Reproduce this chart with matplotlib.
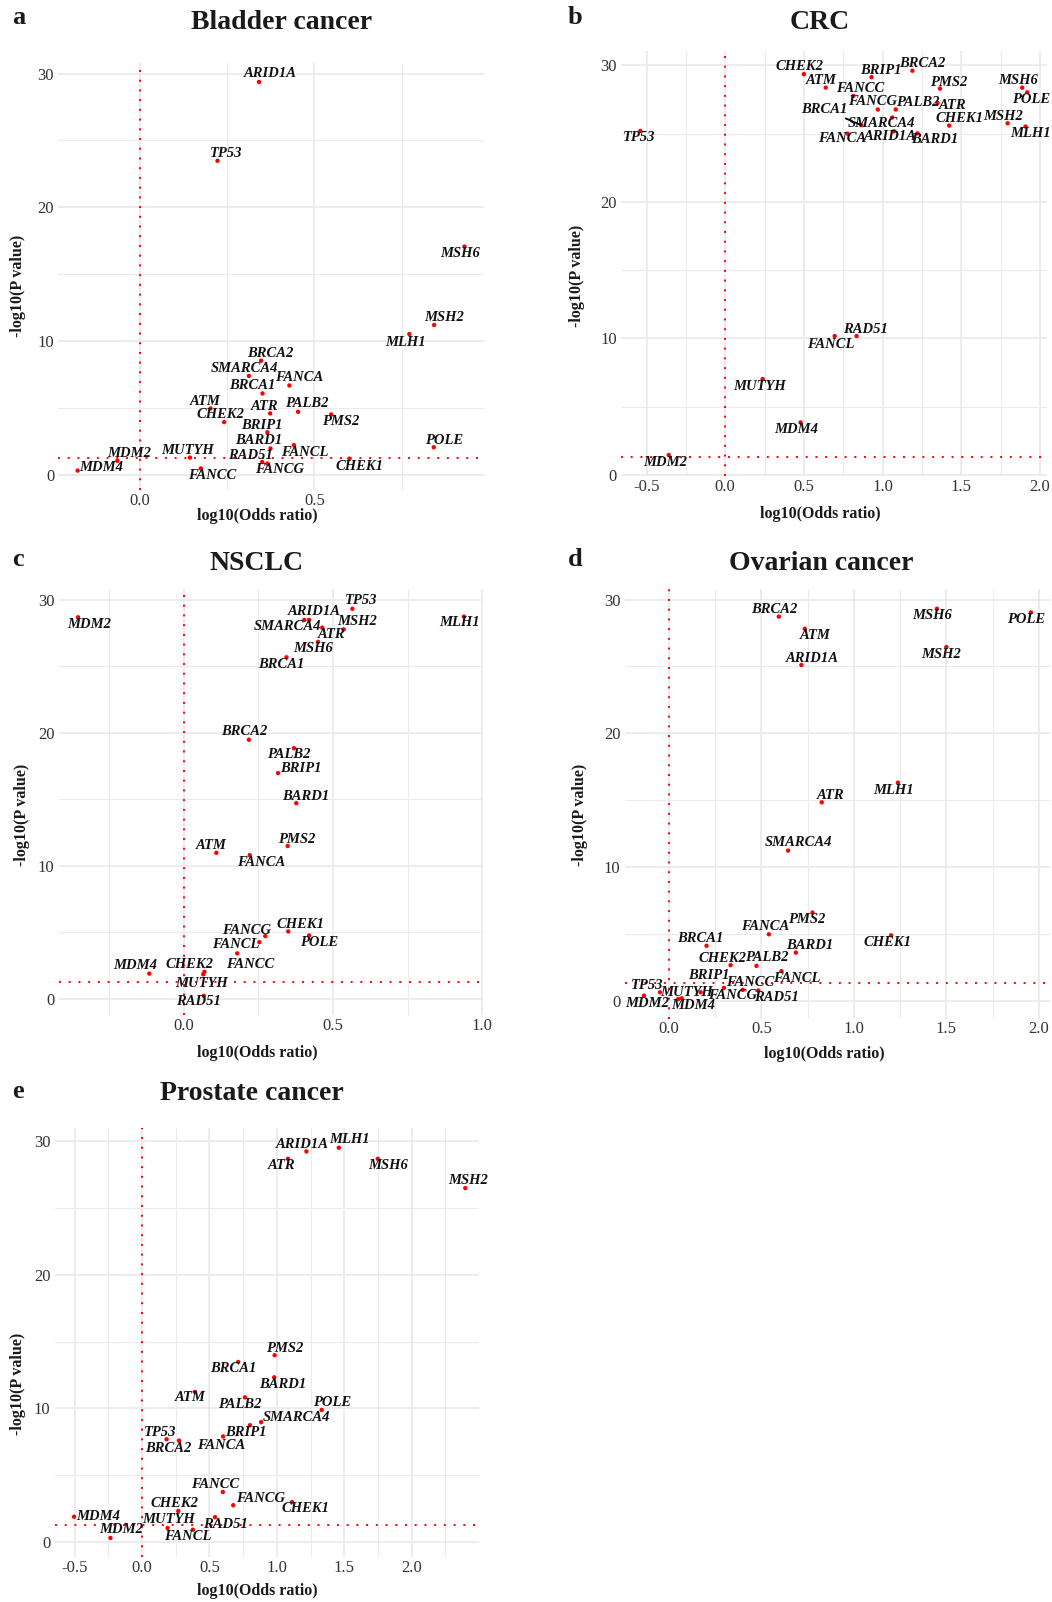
"""
Volcano-style panels: DDR gene associations across five cancer types
"""

import matplotlib
matplotlib.use('Agg')
import matplotlib.pyplot as plt
from matplotlib.ticker import MultipleLocator, FormatStrFormatter

plt.rcParams['font.family'] = ['Liberation Serif', 'DejaVu Serif']
plt.rcParams['axes.unicode_minus'] = False

GENES = ['ARID1A', 'ATM', 'ATR', 'BARD1', 'BRCA1', 'BRCA2', 'BRIP1', 'CHEK1',
         'CHEK2', 'FANCA', 'FANCC', 'FANCG', 'FANCL', 'MDM2', 'MDM4', 'MLH1',
         'MSH2', 'MSH6', 'MUTYH', 'PALB2', 'PMS2', 'POLE', 'RAD51', 'SMARCA4',
         'TP53']

# log10(odds ratio) and -log10(p) per cancer, in GENES order
bladder_log_or = [0.341, 0.202, 0.373, 0.374, 0.351, 0.347, 0.365, 0.600,
                  0.241, 0.428, 0.174, 0.365, 0.441, -0.065, -0.179, 0.772,
                  0.843, 0.930, 0.143, 0.453, 0.548, 0.842, 0.350, 0.312,
                  0.222]
bladder_log_p = [29.37, 4.97, 4.60, 1.98, 6.09, 8.54, 3.19, 1.22,
                 3.95, 6.69, 0.49, 0.85, 2.23, 1.06, 0.33, 10.53,
                 11.21, 17.07, 1.30, 4.72, 4.52, 2.07, 0.97, 7.40,
                 23.48]

crc_log_or = [1.072, 0.639, 1.350, 1.222, 0.865, 1.190, 0.930, 1.424,
              0.500, 0.778, 0.814, 0.970, 0.696, -0.359, 0.479, 1.909,
              1.795, 1.888, 0.238, 1.084, 1.365, 1.920, 0.835, 1.061,
              -0.540]
crc_log_p = [25.17, 28.37, 27.24, 25.02, 25.62, 29.61, 29.14, 25.59,
             29.36, 25.00, 27.76, 26.77, 10.17, 1.45, 3.84, 25.52,
             25.76, 28.37, 7.02, 26.77, 28.30, 28.03, 10.17, 26.18,
             25.20]

nsclc_log_or = [0.404, 0.109, 0.464, 0.377, 0.344, 0.218, 0.316, 0.350,
                0.069, 0.221, 0.179, 0.273, 0.253, -0.355, -0.116, 0.939,
                0.536, 0.450, 0.065, 0.369, 0.348, 0.420, 0.067, 0.420,
                0.565]
nsclc_log_p = [28.48, 10.98, 27.90, 14.71, 25.67, 19.48, 16.97, 5.07,
               2.03, 10.80, 3.42, 4.72, 4.26, 28.68, 1.90, 28.73,
               27.77, 26.83, 1.85, 18.84, 11.49, 4.77, 0.23, 28.48,
               29.32]

ovarian_log_or = [0.716, 0.734, 0.826, 0.686, 0.203, 0.594, 0.171, 1.201,
                  0.333, 0.540, 0.399, 0.297, 0.608, -0.135, 0.050, 1.238,
                  1.500, 1.449, 0.069, 0.473, 0.776, 1.957, 0.483, 0.644,
                  -0.049]
ovarian_log_p = [25.11, 27.82, 14.84, 3.60, 4.11, 28.73, 0.63, 4.89,
                 2.66, 4.97, 0.81, 0.96, 2.21, 0.38, 0.13, 16.31,
                 26.45, 29.32, 0.18, 2.61, 6.59, 29.04, 0.76, 11.23,
                 0.63]

prostate_log_or = [1.219, 0.392, 1.082, 0.980, 0.713, 0.274, 0.800, 1.112,
                   0.269, 0.601, 0.599, 0.676, 0.377, -0.234, -0.504, 1.459,
                   2.397, 1.748, 0.190, 0.763, 0.983, 1.332, 0.541, 0.883,
                   0.182]
prostate_log_p = [29.21, 11.24, 28.66, 12.33, 13.48, 7.60, 8.75, 3.00,
                  2.34, 7.91, 3.76, 2.77, 0.94, 0.33, 1.91, 29.49,
                  26.47, 28.66, 1.07, 10.83, 13.98, 9.89, 1.88, 8.98,
                  7.70]

P_THRESHOLD = 1.301  # -log10(0.05)

# label offsets (pixels, dx right / dy up) imitating the repelled labels
OFFSETS = {
    'a': {'ARID1A': (11, 8), 'TP53': (9, 7), 'MSH6': (-4, -7), 'MSH2': (10, 7),
          'MLH1': (-4, -8), 'BRCA2': (9, 7), 'SMARCA4': (-4, 7), 'FANCA': (10, 8),
          'BRCA1': (-10, 8), 'ATM': (-5, 7), 'PALB2': (9, 8), 'ATR': (-6, 7),
          'PMS2': (9, -7), 'CHEK2': (-4, 8), 'BRIP1': (-5, 7), 'POLE': (10, 7),
          'FANCL': (11, -7), 'BARD1': (-12, 8), 'MUTYH': (-2, 7), 'RAD51': (-12, 7),
          'FANCG': (12, -6), 'MDM2': (12, 7), 'CHEK1': (10, -8), 'MDM4': (24, 3),
          'FANCC': (11, -7)},
    'b': {'CHEK2': (-4, 8), 'ATM': (-5, 7), 'BRIP1': (9, 7), 'BRCA2': (10, 7),
          'FANCC': (7, 7), 'PMS2': (9, 6), 'MSH6': (-4, 7), 'POLE': (4, -7),
          'ATR': (15, -2), 'FANCG': (-5, 8), 'PALB2': (22, 7), 'BRCA1': (-37, 16),
          'SMARCA4': (-11, -6), 'ARID1A': (-4, -5), 'FANCA': (-5, -5),
          'BARD1': (17, -6), 'CHEK1': (10, 7), 'MSH2': (-4, 7), 'MLH1': (5, -7),
          'TP53': (-1, -7), 'RAD51': (9, 7), 'FANCL': (-4, -8), 'MUTYH': (-3, -7),
          'MDM4': (-4, -7), 'MDM2': (-4, -7)},
    'c': {'MDM2': (11, -7), 'TP53': (9, 8), 'ARID1A': (10, 8), 'SMARCA4': (-22, -7),
          'ATR': (9, -7), 'MSH2': (13, 8), 'MSH6': (-5, -7), 'BRCA1': (-5, -7),
          'MLH1': (-4, -6), 'BRCA2': (-5, 8), 'PALB2': (-5, -6), 'BRIP1': (23, 5),
          'BARD1': (9, 7), 'PMS2': (9, 7), 'ATM': (-5, 7), 'FANCA': (11, -7),
          'CHEK1': (12, 7), 'POLE': (10, -7), 'FANCG': (-19, 6), 'FANCL': (-24, -2),
          'FANCC': (13, -11), 'MDM4': (-14, 8), 'CHEK2': (-15, 7), 'MUTYH': (-2, -9),
          'RAD51': (-5, -6)},
    'd': {'BRCA2': (-5, 7), 'MSH6': (-5, -7), 'POLE': (-5, -7), 'ATM': (10, -7),
          'MSH2': (-5, -7), 'ARID1A': (11, 7), 'MLH1': (-4, -8), 'ATR': (9, 7),
          'SMARCA4': (10, 8), 'PMS2': (-6, -7), 'FANCA': (-4, 8), 'CHEK1': (-4, -7),
          'BRCA1': (-6, 7), 'BARD1': (14, 7), 'CHEK2': (-8, 7), 'PALB2': (10, 8),
          'FANCL': (15, -7), 'TP53': (-13, 7), 'MDM2': (3, -8), 'MUTYH': (5, 6),
          'MDM4': (15, -7), 'BRIP1': (8, 17), 'FANCG': (9, -8), 'FANCC': (7, 7),
          'RAD51': (18, -7)},
    'e': {'ARID1A': (-4, 7), 'MLH1': (11, 8), 'ATR': (-6, -7), 'MSH6': (10, -7),
          'MSH2': (3, 8), 'PMS2': (10, 7), 'BRCA1': (-5, -7), 'BARD1': (9, -7),
          'ATM': (-5, -6), 'PALB2': (-5, -7), 'POLE': (10, 7), 'SMARCA4': (35, 5),
          'BRIP1': (-4, -7), 'TP53': (-6, 7), 'BRCA2': (-11, -8), 'FANCA': (-2, -9),
          'FANCC': (-8, 7), 'FANCG': (27, 7), 'CHEK1': (14, -6), 'CHEK2': (-4, 7),
          'MDM4': (24, 0), 'RAD51': (10, -7), 'MUTYH': (1, 8), 'FANCL': (-5, -7),
          'MDM2': (11, 8)},
}

W, H = 1052, 1602

# (letter, title, x, y, panel rect l/t/r/b px, title xy, xlabel xy, ylabel xy, letter xy)
PANELS = [
    ('a', 'Bladder cancer', bladder_log_or, bladder_log_p,
     (58.3, 62.5, 483.8, 490), (282, 22.5), (257, 516), (18.4, 286), (18.4, 17.4)),
    ('b', 'CRC', crc_log_or, crc_log_p,
     (620.9, 51.4, 1046.6, 476.4), (820, 22.5), (820, 514), (577, 276), (575, 17.4)),
    ('c', 'NSCLC', nsclc_log_or, nsclc_log_p,
     (58.7, 589.4, 483.2, 1015.2), (257, 563), (257, 1053), (22.5, 815), (18.4, 560)),
    ('d', 'Ovarian cancer', ovarian_log_or, ovarian_log_p,
     (624.7, 589.2, 1050.2, 1018.5), (821, 563), (824, 1054), (580, 815), (575, 560)),
    ('e', 'Prostate cancer', prostate_log_or, prostate_log_p,
     (54.5, 1128.2, 478.5, 1557.4), (252, 1094), (257, 1591), (18.4, 1384), (18.4, 1091)),
]

# prostate x axis stops just short of 2.5
XMAX = {'e': 2.495}

GRID = '#EBEBEB'
RED = '#FF0000'


def fx(px):
    return px / W


def fy(py):
    return 1 - py / H


def draw_panel(fig, letter, title, xs, ys, rect, title_xy, xlab_xy, ylab_xy, let_xy):
    l, t, r, b = rect
    ax = fig.add_axes([fx(l), fy(b), (r - l) / W, (b - t) / H])

    ax.axvline(0, color=RED, lw=1.4, linestyle=(0, (1, 4)), zorder=2)
    ax.axhline(P_THRESHOLD, color=RED, lw=1.4, linestyle=(0, (1, 4)), zorder=2)
    ax.scatter(xs, ys, s=10, color=RED, edgecolors='none', zorder=3)
    ax.margins(0.05)
    if letter in XMAX:
        ax.set_xlim(right=XMAX[letter])

    for gene, x, y in zip(GENES, xs, ys):
        dx, dy = OFFSETS[letter][gene]
        kw = {}
        if letter == 'b' and gene == 'BRCA1':
            kw['arrowprops'] = dict(arrowstyle='-', color='black', lw=1.3,
                                    shrinkA=0, shrinkB=1)
        ax.annotate(gene, (x, y), xytext=(dx, dy), textcoords='offset pixels',
                    ha='center', va='center', fontsize=10.5, fontweight='bold',
                    fontstyle='italic', color='#111111', zorder=4, **kw)

    ax.xaxis.set_major_locator(MultipleLocator(0.5))
    ax.xaxis.set_minor_locator(MultipleLocator(0.25))
    ax.xaxis.set_major_formatter(FormatStrFormatter('%.1f'))
    ax.yaxis.set_major_locator(MultipleLocator(10))
    ax.yaxis.set_minor_locator(MultipleLocator(5))
    ax.grid(which='major', color=GRID, lw=1.3, zorder=0)
    ax.grid(which='minor', color=GRID, lw=0.8, zorder=0)
    ax.set_axisbelow(True)
    for s in ax.spines.values():
        s.set_visible(False)
    ax.tick_params(which='both', length=0, labelsize=12, labelcolor='#333333')
    ax.tick_params(axis='x', pad=2)
    ax.tick_params(axis='y', pad=3)

    fig.text(fx(title_xy[0]), fy(title_xy[1]), title, ha='center', va='center',
             fontsize=20, fontweight='bold', color='#1a1a1a')
    fig.text(fx(let_xy[0]), fy(let_xy[1]), letter, ha='center', va='center',
             fontsize=19, fontweight='bold', color='#1a1a1a')
    fig.text(fx(xlab_xy[0]), fy(xlab_xy[1]), 'log10(Odds ratio)', ha='center',
             va='center', fontsize=11.5, fontweight='bold', color='#1a1a1a')
    fig.text(fx(ylab_xy[0]), fy(ylab_xy[1]), '-log10(P value)', ha='center',
             va='center', rotation=90, fontsize=11.5, fontweight='bold',
             color='#1a1a1a')
    return ax


def main():
    fig = plt.figure(figsize=(W / 100, H / 100), dpi=100)
    for p in PANELS:
        draw_panel(fig, *p)
    fig.savefig('out.png', dpi=100)
    plt.close(fig)


if __name__ == '__main__':
    main()
